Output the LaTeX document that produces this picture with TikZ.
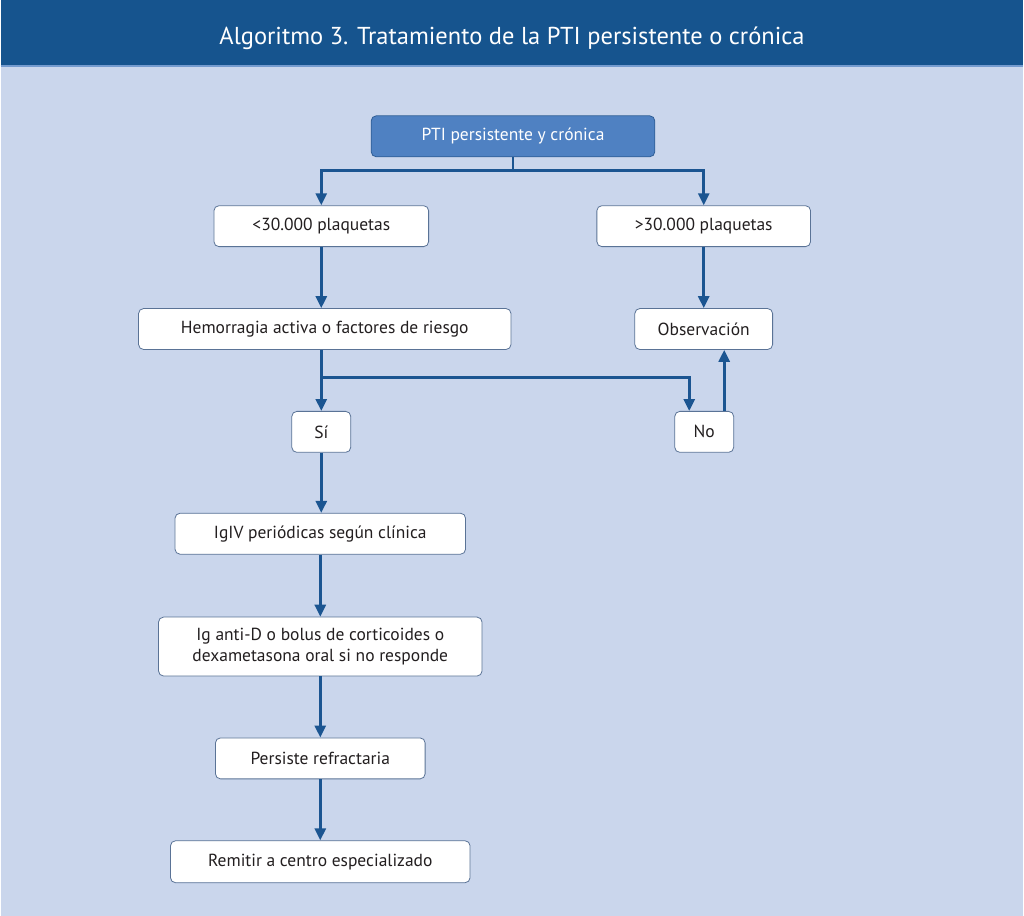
\documentclass[tikz,border=0pt]{standalone}
\usepackage{fontspec}
\setmainfont{PT Sans}
\usepackage{xcolor}
\usetikzlibrary{arrows.meta, positioning}

\definecolor{barblue}{HTML}{16548E}
\definecolor{bgblue}{HTML}{CAD6EC}
\definecolor{topfill}{HTML}{4F81C2}
\definecolor{topedge}{HTML}{2F5E96}
\definecolor{lineblue}{HTML}{1B5591}
\definecolor{boxedge}{HTML}{5A7396}
\definecolor{txt}{HTML}{231F20}

\begin{document}
\begin{tikzpicture}[
  x=1pt, y=-1pt,
  >={Triangle[length=12pt, width=11pt]},
  every node/.style={draw=boxedge, fill=white, rounded corners=5pt, align=center,
    line width=0.8pt, minimum height=41pt, inner sep=2pt, text=txt,
    font=\fontsize{17.5}{21}\selectfont},
  flow/.style={draw=lineblue, line width=2.8pt}
]
% background and title bar
\fill[bgblue] (0,0) rectangle (1024,917);
\fill[barblue] (0,0) rectangle (1024,66);
\draw[topfill!70!bgblue, line width=1.5pt] (0,66) -- (1024,66);
\node[draw=none, fill=none, text=white, font=\fontsize{24.5}{28}\selectfont] (title) at (512,38)
  {Algoritmo 3. Tratamiento de la PTI persistente o crónica};

% boxes
\node[fill=topfill, draw=topedge, text=white, minimum width=284pt] (ptc) at (513,136.5) {PTI persistente y crónica};
\node[minimum width=215pt] (lt) at (321,226.5) {<30.000 plaquetas};
\node[minimum width=214pt] (gt) at (704,226.5) {>30.000 plaquetas};
\node[minimum width=373pt] (hem) at (324.5,329.5) {Hemorragia activa o factores de riesgo};
\node[minimum width=138pt] (obs) at (704,329.5) {Observación};
\node[minimum width=59pt] (si) at (321,432.5) {Sí};
\node[minimum width=59pt] (no) at (704.5,432.5) {No};
\node[minimum width=291pt] (igiv) at (320,534.5) {IgIV periódicas según clínica};
\node[minimum width=324pt, minimum height=59pt] (antid) at (320,647.5)
  {Ig anti-D o bolus de corticoides o\\dexametasona oral si no responde};
\node[minimum width=210pt] (refr) at (320,759.5) {Persiste refractaria};
\node[minimum width=300pt, minimum height=42pt] (remit) at (320,863) {Remitir a centro especializado};

% connectors
\coordinate (split) at (513,171);
\coordinate (branch) at (321,378);
\draw[flow] (ptc) -- (split);
\draw[flow, ->] (split) -| (lt);
\draw[flow, ->] (split) -| (gt);
\draw[flow, ->] (lt) -- (lt |- hem.north);
\draw[flow, ->] (gt) -- (obs);
\draw[flow, ->] (hem.south -| si) -- (si);
\draw[flow, ->] (branch) -| ([xshift=-15pt]no.north);
\draw[flow, ->] ([xshift=20pt]no.north) -- ([xshift=20pt]no.north |- obs.south);
\draw[flow, ->] (si) -- (si |- igiv.north);
\draw[flow, ->] (igiv) -- (antid);
\draw[flow, ->] (antid) -- (refr);
\draw[flow, ->] (refr) -- (remit);
\end{tikzpicture}
\end{document}
